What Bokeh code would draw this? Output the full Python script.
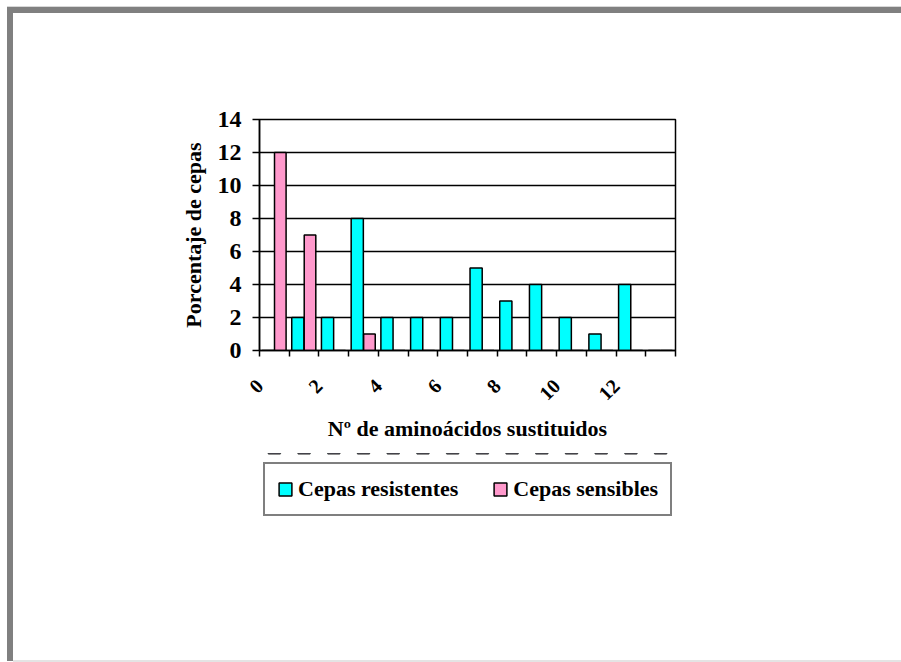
from math import pi
from bokeh.plotting import figure
from bokeh.layouts import column
from bokeh.models import (Range1d, FixedTicker, Legend, LegendItem, ColumnDataSource,
                          InlineStyleSheet)
from bokeh.transform import dodge
from bokeh.embed import file_html
from bokeh.resources import INLINE

# ---- data ----
n_aminoacidos = [0, 1, 2, 3, 4, 5, 6, 7, 8, 9, 10, 11, 12, 13]
resistentes = [0, 2, 2, 8, 2, 2, 2, 5, 3, 4, 2, 1, 4, 0]
sensibles = [12, 7, 0, 1, 0, 0, 0, 0, 0, 0, 0, 0, 0, 0]
x_tick_values = [0, 2, 4, 6, 8, 10, 12]
x_tick_labels = ["0", "2", "4", "6", "8", "10", "12"]
y_ticks = [0, 2, 4, 6, 8, 10, 12, 14]
series_names = ["Cepas resistentes", "Cepas sensibles"]
x_title = "Nº de aminoácidos sustituidos"
y_title = "Porcentaje de cepas"

FONT = "Liberation Serif"
CYAN = "#00FFFF"
PINK = "#FF99CC"

n = len(n_aminoacidos)
src = ColumnDataSource(dict(
    x=[k + 0.5 for k in range(n)],
    res=resistentes,
    sen=sensibles,
))

BORDER_L, BORDER_R = 259, 226

# ---------------- main chart ----------------
p = figure(width=901, height=453, output_backend="svg", toolbar_location=None,
           x_range=Range1d(0, n), y_range=Range1d(0, max(y_ticks)),
           min_border_left=BORDER_L, min_border_right=BORDER_R,
           min_border_top=119, min_border_bottom=103,
           background_fill_color="white", border_fill_color="white")

bar_style_res = dict(fill_color=CYAN, line_color="black", line_width=1.5)
bar_style_sen = dict(fill_color=PINK, line_color="black", line_width=1.5)

p.vbar(x=dodge("x", -0.21, range=p.x_range), top="res", width=0.41, source=src,
       **bar_style_res)
p.vbar(x=dodge("x", 0.2, range=p.x_range), top="sen", width=0.39, source=src,
       **bar_style_sen)

# x axis
all_ticks = list(range(n + 1))
p.xaxis.ticker = FixedTicker(ticks=all_ticks)
overrides = {t: "" for t in all_ticks}
for v, lab in zip(x_tick_values, x_tick_labels):
    overrides[v] = lab
p.xaxis.major_label_overrides = overrides
p.xaxis.major_label_orientation = pi / 4
p.xaxis.major_tick_out = 6
p.xaxis.major_tick_in = 0
p.xaxis.minor_tick_line_color = None
p.xaxis.major_label_standoff = 26
p.xaxis.axis_label = x_title
p.xaxis.axis_label_standoff = 6

# y axis
p.yaxis.ticker = FixedTicker(ticks=y_ticks)
p.yaxis.major_tick_out = 7
p.yaxis.major_tick_in = 0
p.yaxis.minor_tick_line_color = None
p.yaxis.major_label_standoff = 11
p.yaxis.axis_label = y_title
p.yaxis.axis_label_standoff = 9

for ax in (p.xaxis, p.yaxis):
    ax.axis_line_color = "black"
    ax.axis_line_width = 1.5
    ax.major_tick_line_color = "black"
    ax.major_tick_line_width = 1.5
    ax.major_label_text_font = FONT
    ax.major_label_text_font_style = "bold"
    ax.major_label_text_color = "black"
    ax.axis_label_text_font = FONT
    ax.axis_label_text_font_style = "bold"
    ax.axis_label_text_color = "black"
    ax.axis_label_text_font_size = "22px"

p.xaxis.major_label_text_font_size = "20px"
p.yaxis.major_label_text_font_size = "24px"

p.xgrid.visible = False
p.ygrid.grid_line_color = "black"
p.ygrid.grid_line_width = 1.5
p.ygrid.grid_line_alpha = 1

p.outline_line_color = "black"
p.outline_line_width = 1.5

# ---------------- legend strip below ----------------
# same series drawn here only to provide legend glyphs; the y range keeps the bars out of view
leg_fig = figure(width=901, height=209, output_backend="svg", toolbar_location=None,
                 x_range=Range1d(0, n), y_range=Range1d(-2, -1),
                 x_axis_type=None, y_axis_type=None,
                 min_border_left=BORDER_L, min_border_right=BORDER_R,
                 min_border_top=0, min_border_bottom=0,
                 background_fill_color="white", border_fill_color="white")
leg_fig.outline_line_color = None
lr1 = leg_fig.vbar(x="x", top="res", width=0.41, source=src, **bar_style_res)
lr2 = leg_fig.vbar(x="x", top="sen", width=0.39, source=src, **bar_style_sen)

legend = Legend(items=[LegendItem(label=series_names[0], renderers=[lr1]),
                       LegendItem(label=series_names[1], renderers=[lr2])],
                location=(4, 146), orientation="horizontal",
                label_text_font=FONT, label_text_font_style="bold",
                label_text_font_size="22px", label_text_color="black",
                glyph_width=16, glyph_height=16, label_standoff=5,
                label_height=26,
                spacing=34, padding=12, margin=0,
                border_line_color="black", border_line_width=2,
                background_fill_color="white", background_fill_alpha=1)
leg_fig.add_layout(legend)

page = column(p, leg_fig, spacing=0)

# page frame (gray border on top and left), drawn as a CSS overlay
page.stylesheets = [InlineStyleSheet(css="""
:host { position: relative; }
:host::after {
  content: "";
  position: absolute;
  left: 7px; top: 7px; right: 0px; bottom: 1px;
  border-top: 6px solid #808080;
  border-left: 6px solid #808080;
  box-shadow: 0 -1px 0 #d8d8d8;
  pointer-events: none;
  z-index: 10;
}
:host::before {
  content: "";
  position: absolute;
  left: 13px; right: 0px; bottom: 0px; height: 2px;
  background: #e4e4e4;
  pointer-events: none;
  z-index: 10;
}
""")]

open("out.html", "w").write(file_html(page, INLINE))
